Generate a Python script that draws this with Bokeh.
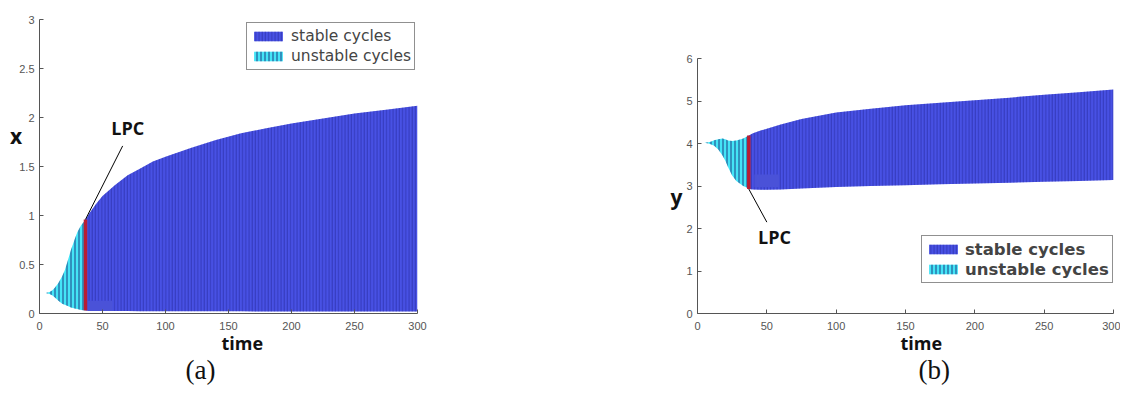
from bokeh.plotting import figure
from bokeh.layouts import row
from bokeh.models import Range1d, FixedTicker, Label, Legend, LegendItem, Title
from bokeh.embed import file_html
from bokeh.resources import INLINE

# ---------------- DATA ----------------
# panel (a): x(t)
ta_unst = [2, 5, 8, 10, 12, 15, 18, 20, 22, 25, 28, 30, 33, 36.5]
xa_unst_max = [0.21, 0.21, 0.22, 0.235, 0.26, 0.31, 0.38, 0.44, 0.52, 0.65, 0.76, 0.83, 0.90, 0.955]
xa_unst_min = [0.21, 0.21, 0.20, 0.185, 0.165, 0.13, 0.10, 0.09, 0.08, 0.06, 0.05, 0.045, 0.035, 0.03]
ta_st = [36.5, 40, 45, 50, 60, 70, 80, 90, 100, 120, 140, 160, 180, 200, 225, 250, 275, 300]
xa_st_max = [0.96, 1.03, 1.12, 1.20, 1.31, 1.41, 1.48, 1.55, 1.60, 1.69, 1.77, 1.84, 1.89, 1.94, 1.99, 2.04, 2.08, 2.12]
xa_st_min = [0.03, 0.028, 0.027, 0.026, 0.025, 0.025, 0.024, 0.024, 0.023, 0.023, 0.022, 0.022, 0.021, 0.021, 0.02, 0.02, 0.02, 0.02]
ta_lpc = [36.5]
xa_lpc_min = [0.03]
xa_lpc_max = [0.96]
ta_patch = [38, 58]
xa_patch = [0.025, 0.13]

# panel (b): y(t)
tb_unst = [2, 5, 8, 10, 12, 15, 18, 20, 22, 25, 28, 30, 33, 37]
yb_unst_max = [4.02, 4.02, 4.03, 4.05, 4.08, 4.10, 4.12, 4.10, 4.07, 4.06, 4.07, 4.09, 4.12, 4.19]
yb_unst_min = [4.02, 4.02, 4.00, 3.98, 3.95, 3.86, 3.72, 3.60, 3.45, 3.25, 3.12, 3.07, 3.00, 2.94]
tb_st = [37, 40, 45, 50, 60, 75, 100, 125, 150, 175, 200, 225, 250, 275, 300]
yb_st_max = [4.19, 4.24, 4.30, 4.35, 4.45, 4.58, 4.73, 4.82, 4.90, 4.96, 5.02, 5.08, 5.15, 5.21, 5.27]
yb_st_min = [2.93, 2.92, 2.91, 2.91, 2.92, 2.94, 2.98, 3.00, 3.02, 3.04, 3.06, 3.08, 3.10, 3.12, 3.14]
tb_lpc = [37]
yb_lpc_min = [2.93]
yb_lpc_max = [4.19]
tb_patch = [41, 59]
yb_patch = [2.97, 3.27]

x_ticks = [0, 50, 100, 150, 200, 250, 300]
x_tick_labels = ["0", "50", "100", "150", "200", "250", "300"]
ya_ticks = [0, 0.5, 1, 1.5, 2, 2.5, 3]
ya_tick_labels = ["0", "0.5", "1", "1.5", "2", "2.5", "3"]
yb_ticks = [0, 1, 2, 3, 4, 5, 6]
yb_tick_labels = ["0", "1", "2", "3", "4", "5", "6"]
legend_labels = ["stable cycles", "unstable cycles"]

# ---------------- STYLE ----------------
STABLE = "#4851e4"
STABLE_HATCH = "#1e2290"
UNST = "#44e4f6"
UNST_HATCH = "#142070"
RED = "#b81d33"
AX = "#555555"
TICKF = "Liberation Sans"
BOLDF = "Open Sans"
NB = "\u00a0"


def style_axes(p, yt, ytl, ybounds):
    p.xaxis.ticker = FixedTicker(ticks=x_ticks)
    p.xaxis.major_label_overrides = {float(k): v for k, v in zip(x_ticks, x_tick_labels)}
    p.yaxis.ticker = FixedTicker(ticks=yt)
    p.yaxis.major_label_overrides = {float(k): v for k, v in zip(yt, ytl)}
    p.yaxis.bounds = ybounds
    for ax in (p.xaxis[0], p.yaxis[0]):
        ax.major_tick_in = 4
        ax.major_tick_out = 0
        ax.minor_tick_line_color = None
        ax.axis_line_color = AX
        ax.major_tick_line_color = AX
        ax.major_label_text_color = "#555555"
        ax.major_label_text_font = TICKF
        ax.major_label_text_font_size = "11px"
    p.xaxis.major_label_standoff = 8
    p.yaxis.major_label_standoff = 5
    p.xgrid.grid_line_color = None
    p.ygrid.grid_line_color = None
    p.outline_line_color = None
    p.background_fill_color = "white"
    p.border_fill_color = "white"


def make_panel(width, height, borders, yr, ybounds, t_u, u_max, u_min, t_s, s_max, s_min,
               t_l, l_min, l_max, t_p, y_p, yt, ytl, ylabel, ylabel_standoff):
    p = figure(width=width, height=height, output_backend="svg", toolbar_location=None,
               x_range=Range1d(0, 300), y_range=Range1d(*yr))
    p.min_border_left, p.min_border_right, p.min_border_top, p.min_border_bottom = borders
    style_axes(p, yt, ytl, ybounds)
    ax = p.yaxis[0]
    ax.axis_label = ylabel
    ax.axis_label_text_font = BOLDF
    ax.axis_label_text_font_style = "bold"
    ax.axis_label_text_font_size = "21px"
    ax.axis_label_text_color = "#111111"
    ax.axis_label_text_line_height = 1.1
    ax.axis_label_standoff = ylabel_standoff
    try:
        ax.axis_label_orientation = "horizontal"
    except Exception:
        pass
    r_s = p.varea(x=t_s, y1=s_min, y2=s_max, fill_color=STABLE,
                  hatch_pattern="vertical_line", hatch_color=STABLE_HATCH,
                  hatch_alpha=0.5, hatch_scale=3.2, hatch_weight=1)
    r_u = p.varea(x=t_u, y1=u_min, y2=u_max, fill_color=UNST,
                  hatch_pattern="vertical_line", hatch_color=UNST_HATCH,
                  hatch_alpha=0.85, hatch_scale=4, hatch_weight=1)
    p.quad(left=[t_p[0]], right=[t_p[1]], bottom=[y_p[0]], top=[y_p[1]],
           fill_color="#4a52d8", line_color=None)
    p.segment(x0=t_l, y0=l_min, x1=t_l, y1=l_max, line_color=RED, line_width=3.5)
    return p, r_s, r_u


def add_bottom_titles(p, time_offset, cap, cap_offset):
    p.add_layout(Title(text="time", align="left", offset=time_offset, standoff=-7,
                       text_font=BOLDF, text_font_style="bold", text_font_size="18px",
                       text_color="#111111"), "below")
    p.add_layout(Title(text=cap, align="left", offset=cap_offset, standoff=3,
                       text_font="Liberation Serif", text_font_style="normal",
                       text_font_size="27px", text_color="#111111"), "below")


def make_legend(r_s, r_u, loc, style, font_size, standoff):
    return Legend(items=[LegendItem(label=legend_labels[0], renderers=[r_s]),
                         LegendItem(label=legend_labels[1], renderers=[r_u])],
                  location=loc, orientation="vertical",
                  label_text_font="DejaVu Sans", label_text_font_style=style,
                  label_text_font_size=font_size,
                  label_height=20, glyph_width=36, glyph_height=12, label_standoff=standoff,
                  padding=3, spacing=0, margin=0,
                  border_line_color="#222222", border_line_width=1,
                  background_fill_color="white", background_fill_alpha=1)


H = 392
FRAME_BOTTOM = 313

# ---------- panel (a) ----------
pa, ra_s, ra_u = make_panel(560, H, (39, 143, 19, H - FRAME_BOTTOM), (0, 3), (0, 3),
                            ta_unst, xa_unst_max, xa_unst_min, ta_st, xa_st_max, xa_st_min,
                            ta_lpc, xa_lpc_min, xa_lpc_max, ta_patch, xa_patch,
                            ya_ticks, ya_tick_labels, "x\n" + NB + "\n" + NB, -6)
pa.segment(x0=[ta_lpc[0]], y0=[xa_lpc_max[0]], x1=[66], y1=[1.71], line_color="black", line_width=1)
pa.add_layout(Label(x=70, y=1.89, text="LPC", text_align="center", text_baseline="middle",
                    text_font=BOLDF, text_font_style="bold", text_font_size="18px",
                    text_color="#111111"))
add_bottom_titles(pa, 182, "(a)", 146)
pa.add_layout(make_legend(ra_s, ra_u, (207, 243), "normal", "15.5px", 5), "center")

# ---------- panel (b) ----------
pb, rb_s, rb_u = make_panel(560, H, (137, 7, 19, H - FRAME_BOTTOM), (0, 6.92), (0, 6),
                            tb_unst, yb_unst_max, yb_unst_min, tb_st, yb_st_max, yb_st_min,
                            tb_lpc, yb_lpc_min, yb_lpc_max, tb_patch, yb_patch,
                            yb_ticks, yb_tick_labels, NB + "\n" + NB + "\ny", 1)
pb.segment(x0=[tb_lpc[0]], y0=[yb_lpc_min[0]], x1=[50], y1=[2.15], line_color="black", line_width=1)
pb.add_layout(Label(x=55.5, y=1.8, text="LPC", text_align="center", text_baseline="middle",
                    text_font=BOLDF, text_font_style="bold", text_font_size="18px",
                    text_color="#111111"))
add_bottom_titles(pb, 203, "(b)", 221)
pb.add_layout(make_legend(rb_s, rb_u, (224, 30), "bold", "16.5px", 4), "center")

layout = row(pa, pb, spacing=0)
open("out.html", "w").write(file_html(layout, INLINE))
